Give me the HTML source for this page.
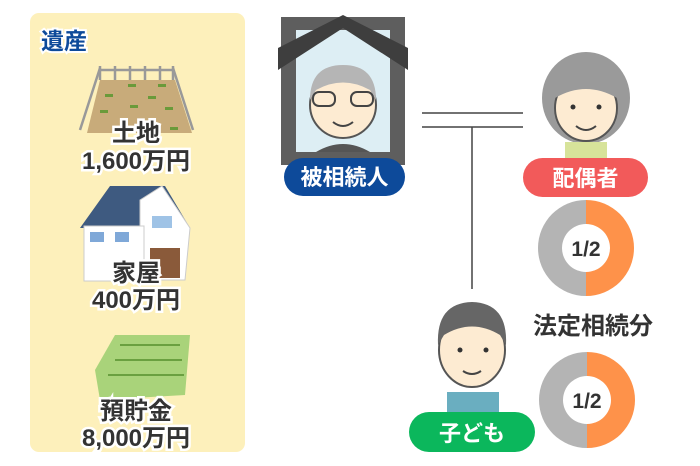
<!DOCTYPE html>
<html><head><meta charset="utf-8"><style>
html,body{margin:0;padding:0;background:#fff;width:700px;height:466px;overflow:hidden}
text{font-family:"Liberation Sans","Noto Sans CJK JP",sans-serif;font-weight:bold}
</style></head><body>
<svg width="700" height="466" viewBox="0 0 700 466" xmlns="http://www.w3.org/2000/svg">
<rect x="30" y="13" width="215" height="439" rx="9" fill="#fdf0bb"/>
<text x="41" y="49" font-size="23" fill="#0d4a9a" stroke="#fff" stroke-width="4" paint-order="stroke">遺産</text>
<!-- land -->
<polygon points="100,80 175,80 192,133 87,133" fill="#c8ab7a"/>
<g stroke="#999" stroke-width="2.5" fill="none">
<line x1="100" y1="70" x2="173" y2="70"/>
<line x1="100" y1="68" x2="80" y2="130"/><line x1="173" y1="68" x2="193" y2="130"/>
<line x1="100" y1="66" x2="100" y2="80"/><line x1="115" y1="66" x2="115" y2="80"/><line x1="130" y1="66" x2="130" y2="80"/><line x1="145" y1="66" x2="145" y2="80"/><line x1="160" y1="66" x2="160" y2="80"/><line x1="173" y1="66" x2="173" y2="80"/>
</g>
<g fill="#6a9a3a"><rect x="128" y="84" width="8" height="3"/><rect x="158" y="84" width="8" height="3"/><rect x="105" y="94" width="8" height="3"/><rect x="148" y="96" width="8" height="3"/><rect x="130" y="105" width="8" height="3"/><rect x="165" y="107" width="8" height="3"/><rect x="100" y="110" width="8" height="3"/><rect x="170" y="127" width="8" height="3"/></g>
<g font-size="24" fill="#333" stroke="#fff" stroke-width="5" paint-order="stroke" text-anchor="middle">
<text x="136" y="141">土地</text>
<text x="136" y="169">1,600万円</text>
</g>
<!-- house -->
<polygon points="80,228 110,186 165,186 190,228" fill="#3e5a80"/>
<polygon points="140,200 162,186 190,228 185,280 140,280" fill="#fff" stroke="#ccc"/>
<rect x="84" y="226" width="60" height="55" fill="#fff" stroke="#ccc"/>
<rect x="152" y="216" width="20" height="12" fill="#9fc3e6"/>
<rect x="90" y="232" width="14" height="10" fill="#7fa8d8"/><rect x="115" y="232" width="14" height="10" fill="#7fa8d8"/>
<rect x="150" y="248" width="30" height="30" fill="#8a5a3a"/>
<g font-size="24" fill="#333" stroke="#fff" stroke-width="5" paint-order="stroke" text-anchor="middle">
<text x="136" y="281">家屋</text>
<text x="136" y="308">400万円</text>
</g>
<!-- money -->
<polygon points="115,335 190,335 185,395 100,400 95,370" fill="#a9d37a"/>
<g stroke="#6aa040" stroke-width="2"><line x1="120" y1="345" x2="180" y2="345"/><line x1="115" y1="360" x2="182" y2="360"/><line x1="108" y1="375" x2="184" y2="375"/></g>
<g font-size="24" fill="#333" stroke="#fff" stroke-width="5" paint-order="stroke" text-anchor="middle">
<text x="136" y="419">預貯金</text>
<text x="136" y="446">8,000万円</text>
</g>
<!-- portrait frame -->
<rect x="281" y="17" width="124" height="148" fill="#5e5e5e"/>
<rect x="296" y="30" width="94" height="122" fill="#ddeef4"/>
<polygon points="278,48 343,15 408,48 408,70 343,28 278,70" fill="#3e3e3e"/>
<circle cx="343" cy="105" r="33" fill="#fdebd2" stroke="#555" stroke-width="2"/>
<path d="M310,100 Q310,65 343,65 Q376,65 376,100 L370,90 Q343,75 316,90 Z" fill="#b5b5b5"/>
<g stroke="#444" stroke-width="2" fill="none"><rect x="313" y="92" width="22" height="14" rx="6"/><rect x="351" y="92" width="22" height="14" rx="6"/><path d="M333,122 Q343,130 353,122"/></g>
<path d="M316,152 Q343,136 370,152 Z" fill="#555"/>
<rect x="284" y="158" width="121" height="38" rx="19" fill="#0d4a9a"/>
<text x="344.5" y="185" font-size="22" fill="#fff" text-anchor="middle">被相続人</text>
<!-- lines -->
<g stroke="#444" stroke-width="1.5"><line x1="422" y1="113" x2="523" y2="113"/><line x1="422" y1="127" x2="523" y2="127"/><line x1="472" y1="127" x2="472" y2="289"/></g>
<!-- spouse -->
<ellipse cx="586" cy="98" rx="44" ry="46" fill="#9a9a9a"/>
<ellipse cx="586" cy="108" rx="31" ry="33" fill="#fdebd2" stroke="#555" stroke-width="2"/>
<path d="M555,98 Q560,68 586,70 Q612,68 617,98 Q586,80 555,98Z" fill="#9a9a9a"/>
<rect x="565" y="142" width="42" height="18" fill="#d7e39a"/>
<path d="M576,126 Q586,134 596,126" stroke="#444" stroke-width="2" fill="none"/>
<circle cx="573" cy="107" r="2.5" fill="#333"/><circle cx="599" cy="107" r="2.5" fill="#333"/>
<rect x="523" y="158" width="125" height="39" rx="19.5" fill="#f25a5a"/>
<text x="585.5" y="186" font-size="22" fill="#fff" text-anchor="middle">配偶者</text>
<!-- donuts -->
<path d="M586,200 A48,48 0 0 1 586,296 Z" fill="#fe924a"/>
<path d="M586,200 A48,48 0 0 0 586,296 Z" fill="#b4b4b4"/>
<circle cx="586" cy="248" r="24" fill="#fff"/>
<text x="586" y="256" font-size="21" fill="#333" text-anchor="middle">1/2</text>
<path d="M587,352 A48,48 0 0 1 587,448 Z" fill="#fe924a"/>
<path d="M587,352 A48,48 0 0 0 587,448 Z" fill="#b4b4b4"/>
<circle cx="587" cy="400" r="24" fill="#fff"/>
<text x="587" y="408" font-size="21" fill="#333" text-anchor="middle">1/2</text>
<text x="593" y="334" font-size="24" fill="#333" text-anchor="middle">法定相続分</text>
<!-- child -->
<rect x="447" y="392" width="52" height="24" fill="#6aaec0"/>
<ellipse cx="472" cy="350" rx="33" ry="37" fill="#fdebd2" stroke="#555" stroke-width="2"/>
<path d="M438,345 Q436,303 472,302 Q508,303 506,345 L500,335 Q472,318 444,335 Z" fill="#666"/>
<circle cx="460" cy="350" r="2.5" fill="#333"/><circle cx="486" cy="350" r="2.5" fill="#333"/>
<path d="M463,371 Q472,377 481,371" stroke="#444" stroke-width="2" fill="none"/>
<rect x="409" y="412" width="126" height="40" rx="20" fill="#0bb75c"/>
<text x="472" y="441" font-size="22" fill="#fff" text-anchor="middle">子ども</text>
</svg>
</body></html>
